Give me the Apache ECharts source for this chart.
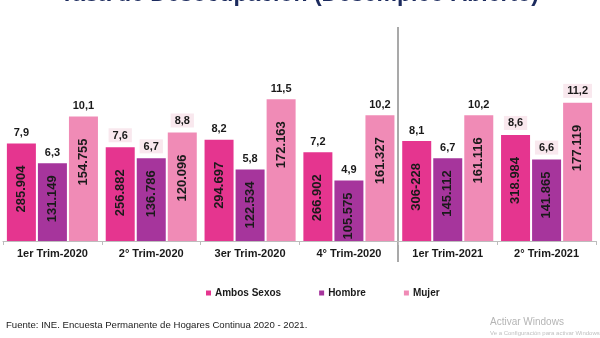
<!DOCTYPE html>
<html><head><meta charset="utf-8">
<script src="https://cdn.jsdelivr.net/npm/echarts@6/dist/echarts.min.js"></script>
<style>html,body{margin:0;padding:0;background:#fff}#c{width:600px;height:338px}</style>
</head><body><div id="c"></div>
<script>
const categories = ['1er Trim-2020','2° Trim-2020','3er Trim-2020','4° Trim-2020','1er Trim-2021','2° Trim-2021'];
const seriesNames = ['Ambos Sexos','Hombre','Mujer'];
const rateAmbos = [7.9, 7.6, 8.2, 7.2, 8.1, 8.6];
const rateHombre = [6.3, 6.7, 5.8, 4.9, 6.7, 6.6];
const rateMujer = [10.1, 8.8, 11.5, 10.2, 10.2, 11.2];
const countAmbos = ['285.904','256.882','294.697','266.902','306-228','318.984'];
const countHombre = ['131.149','136.786','122.534','105.575','145.112','141.865'];
const countMujer = ['154.755','120.096','172.163','161.327','161.116','177.119'];
const boxedGroups = [1, 5];

const colors = ['#e5358f', '#a6359c', '#f08bb6'];
const rates = [rateAmbos, rateHombre, rateMujer];
const counts = [countAmbos, countHombre, countMujer];
const innerDist = [22, 12, 22];
const font = 'Arial, "Liberation Sans", sans-serif';

const chart = echarts.init(document.getElementById('c'), null, {renderer: 'canvas'});
const series = [];
const barW = 29;
rates.forEach((r, i) => {
  series.push({
    name: seriesNames[i], type: 'bar', xAxisIndex: 0, yAxisIndex: 0,
    barWidth: barW, barGap: '7%', barCategoryGap: '8%',
    itemStyle: {color: colors[i]},
    data: r.map((v, k) => ({value: v, cnt: counts[i][k]})),
    label: {
      show: true, position: 'insideTop', distance: innerDist[i], rotate: 90,
      align: 'right', verticalAlign: 'middle',
      formatter: p => counts[i][p.dataIndex],
      color: '#1a1a1a', fontWeight: 'bold', fontSize: 13, fontFamily: font
    },
    z: 2
  });
});
rates.forEach((r, i) => {
  series.push({
    name: seriesNames[i] + ' ', type: 'bar', xAxisIndex: 1, yAxisIndex: 0,
    barWidth: barW, barGap: '7%', barCategoryGap: '8%',
    itemStyle: {color: 'rgba(0,0,0,0)'},
    data: r.map((v, k) => ({
      value: v,
      label: boxedGroups.includes(k) ? {backgroundColor: '#f9e8ee', padding: [2, 4, 1, 4]} : {}
    })),
    label: {
      show: true, position: 'top', distance: 5,
      formatter: p => String(p.value).replace('.', ','),
      color: '#1a1a1a', fontWeight: 'bold', fontSize: 11, fontFamily: font
    },
    z: 3, silent: true
  });
});

chart.setOption({
  animation: false,
  grid: {left: 3, right: 4, top: 93, bottom: 97},
  xAxis: [{
    type: 'category', data: categories,
    axisLine: {lineStyle: {color: '#bdbdbd', width: 1}},
    axisTick: {show: true, lineStyle: {color: '#bdbdbd'}, length: 4},
    axisLabel: {color: '#1a1a1a', fontWeight: 'bold', fontSize: 11, fontFamily: font, margin: 7}
  }, {
    type: 'category', data: categories, show: false
  }],
  yAxis: {type: 'value', min: 0, max: 12, show: false, splitLine: {show: false}},
  legend: {
    data: seriesNames, left: 201, top: 283, itemWidth: 5, itemHeight: 5, icon: 'rect',
    itemGap: 38,
    textStyle: {color: '#1a1a1a', fontWeight: 'bold', fontSize: 10, fontFamily: font, padding: [0, 0, 0, -1]}
  },
  series: series,
  graphic: [
    {type: 'text', left: 60, top: -17, style: {text: 'Tasa de Desocupación (Desempleo Abierto)',
      fill: '#1c2b5e', font: 'bold 23px ' + font}},
    {type: 'line', shape: {x1: 398, y1: 27, x2: 398, y2: 262}, style: {stroke: '#a9a9a9', lineWidth: 2}},
    {type: 'text', left: 6, top: 320, style: {text: 'Fuente: INE. Encuesta Permanente de Hogares Continua 2020 - 2021.',
      fill: '#222', font: '9.6px ' + font}},
    {type: 'text', left: 490, top: 317, style: {text: 'Activar Windows', fill: '#b5b5b5', font: '10px ' + font}},
    {type: 'text', left: 490, top: 330, style: {text: 'Ve a Configuración para activar Windows.', fill: '#c0c0c0', font: '6px ' + font}}
  ]
});
</script></body></html>
